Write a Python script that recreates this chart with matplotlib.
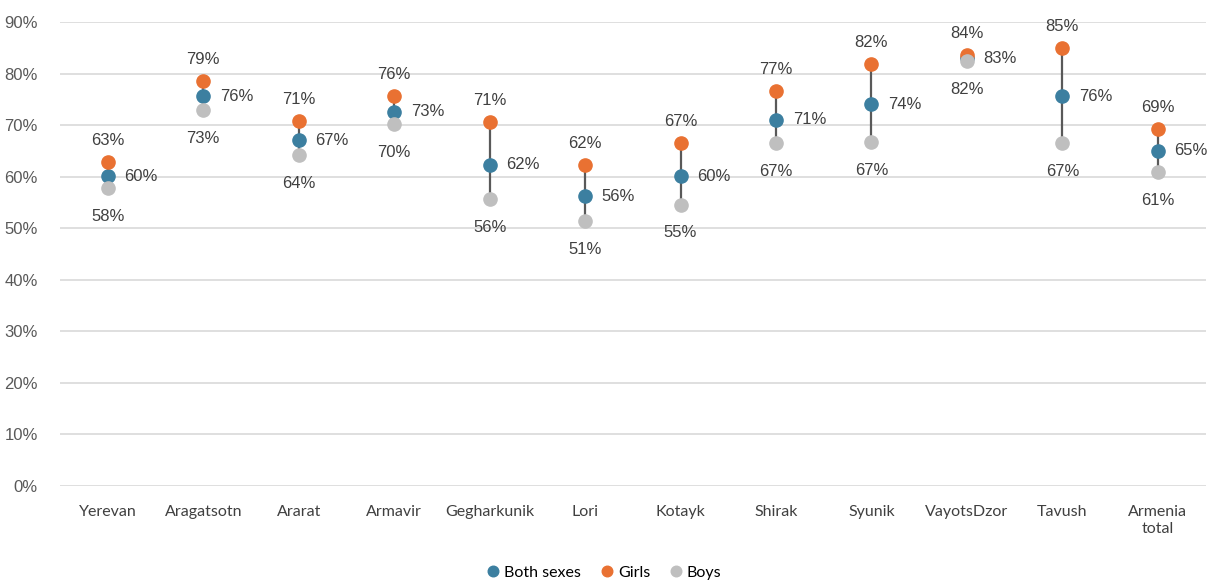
import matplotlib.pyplot as plt
import numpy as np

# data
regions = ["Yerevan", "Aragatsotn", "Ararat", "Armavir", "Gegharkunik", "Lori",
           "Kotayk", "Shirak", "Syunik", "VayotsDzor", "Tavush", "Armenia\ntotal"]
both = [60.1, 75.6, 67.1, 72.6, 62.3, 56.2, 60.1, 71.0, 74.1, 83.0, 75.6, 65.0]
girls = [62.8, 78.6, 70.8, 75.6, 70.6, 62.3, 66.6, 76.6, 81.8, 83.6, 84.9, 69.2]
boys = [57.8, 72.9, 64.2, 70.2, 55.6, 51.4, 54.6, 66.6, 66.7, 82.4, 66.6, 60.9]

c_both = "#3C7FA0"
c_girls = "#E97132"
c_boys = "#BFBFBF"
txt = "#404040"

plt.rcParams['font.family'] = ['Liberation Sans', 'DejaVu Sans']

fig = plt.figure(figsize=(12.08, 5.8), dpi=100)
ax = fig.add_axes([0.0497, 0.162, 0.9483, 0.8])

x = np.arange(len(regions))
ax.vlines(x, boys, girls, color="#595959", lw=1.6, zorder=2)
ax.plot(x, both, "o", color=c_both, ms=9.5, zorder=3, label="Both sexes")
ax.plot(x, girls, "o", color=c_girls, ms=9.5, zorder=4, label="Girls")
ax.plot(x, boys, "o", color=c_boys, ms=9.5, zorder=5, label="Boys")

for i in range(len(regions)):
    ax.annotate("%.0f%%" % girls[i], (x[i], girls[i]), xytext=(0, 10),
                textcoords="offset points", ha="center", va="bottom",
                fontsize=12, color=txt)
    ax.annotate("%.0f%%" % both[i], (x[i], both[i]), xytext=(12, 0),
                textcoords="offset points", ha="left", va="center",
                fontsize=12, color=txt)
    ax.annotate("%.0f%%" % boys[i], (x[i], boys[i]), xytext=(0, -15),
                textcoords="offset points", ha="center", va="top",
                fontsize=12, color=txt)

ax.set_xlim(-0.5, len(regions) - 0.5)
ax.set_ylim(0, 90)
ax.set_yticks(np.arange(0, 91, 10))
ax.set_yticklabels(["%d%%" % v for v in range(0, 91, 10)], fontsize=12, color="#595959")
ax.set_xticks(x)
ax.set_xticklabels(regions, fontsize=11.5, color=txt, family=['Lato', 'DejaVu Sans'])
ax.tick_params(length=0, axis="x", pad=14)
ax.tick_params(length=0, axis="y", pad=16)
ax.grid(axis="y", color="#D9D9D9", lw=1.2)
ax.set_axisbelow(True)
for s in ax.spines.values():
    s.set_visible(False)

fig.legend(loc="center", bbox_to_anchor=(0.5, 0.013), ncol=3, frameon=False,
           handlelength=0.8, handletextpad=0.3, columnspacing=1.2,
           markerscale=0.8, prop={'family': ['Lato', 'DejaVu Sans'], 'size': 11.5})

fig.savefig("out.png", dpi=100)
